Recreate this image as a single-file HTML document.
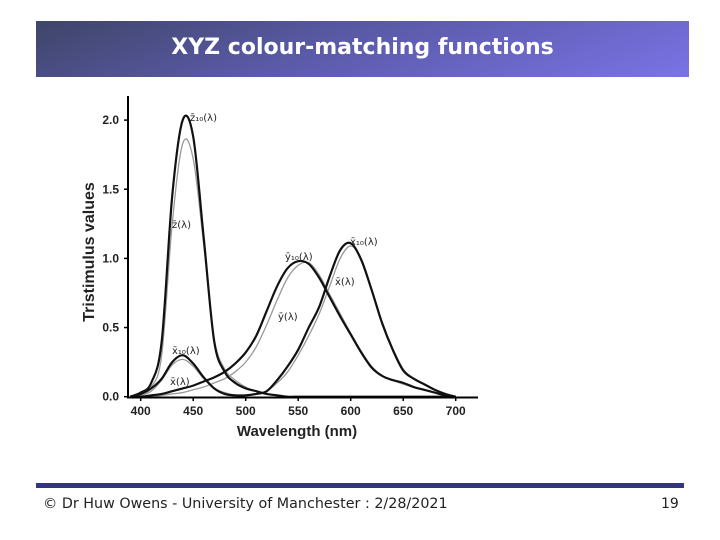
<!DOCTYPE html>
<html><head><meta charset="utf-8"><style>
body{margin:0;background:#fff;width:720px;height:540px;overflow:hidden;position:relative;font-family:"Liberation Sans",sans-serif}
#hdr{position:absolute;left:36px;top:21px;width:653px;height:56px;background:linear-gradient(160deg,#3e4567 0%,#5a5aa8 45%,#7a73e6 100%)}
#hdr span{position:absolute;left:0;right:0;top:14px;text-align:center;color:#fff;font-weight:bold;font-size:22px;font-family:"DejaVu Sans","Liberation Sans",sans-serif}
#rule{position:absolute;left:36px;top:483px;width:648px;height:5px;background:#333385}
#foot{position:absolute;left:43px;top:496px;font-size:14.3px;color:#222;font-family:"DejaVu Sans",sans-serif}
#pg{position:absolute;left:661px;top:496px;font-size:14px;color:#222;font-family:"DejaVu Sans",sans-serif}
svg{position:absolute;left:0;top:0}
</style></head><body>
<div id="hdr"><span>XYZ colour-matching functions</span></div>
<svg id="chart" width="720" height="540"></svg>
<div id="rule"></div>
<div id="foot">© Dr Huw Owens - University of Manchester : 2/28/2021</div>
<div id="pg">19</div>
<script>
const wavelengths=[390,400,410,420,430,440,450,460,470,480,490,500,510,520,530,540,550,560,570,580,590,600,610,620,630,640,650,660,670,680,690,700];
const z10=[0,.03,.10,.40,1.45,2.00,1.88,1.15,.40,.18,.10,.06,.04,.02,.01,0,0,0,0,0,0,0,0,0,0,0,0,0,0,0,0,0];
const z2=[0,.02,.07,.30,1.25,1.83,1.72,1.10,.42,.20,.12,.07,.04,.02,.01,0,0,0,0,0,0,0,0,0,0,0,0,0,0,0,0,0];
const x10=[0,.02,.06,.13,.25,.30,.24,.14,.06,.02,.01,.01,.02,.04,.12,.22,.34,.50,.65,.87,1.06,1.11,.99,.77,.53,.34,.19,.13,.09,.05,.02,0];
const x2=[0,.01,.04,.12,.23,.27,.22,.13,.06,.03,.01,.01,.02,.04,.10,.18,.30,.44,.60,.80,1.00,1.09,1.00,.78,.54,.35,.20,.13,.09,.05,.02,0];
const y10=[0,0,.01,.02,.04,.06,.08,.11,.14,.18,.24,.32,.44,.62,.80,.93,.98,.96,.86,.72,.58,.45,.32,.21,.15,.12,.10,.07,.05,.03,.01,0];
const y2=[0,0,0,.01,.02,.03,.05,.07,.10,.13,.18,.25,.36,.52,.70,.86,.95,.97,.88,.74,.60,.46,.33,.22,.15,.12,.09,.07,.05,.03,.01,0];
const xTicks=[400,450,500,550,600,650,700];
const yTicks=[0,0.5,1.0,1.5,2.0];
const NS='http://www.w3.org/2000/svg';
const svg=document.getElementById('chart');
const X=v=>140.7+(v-400)*1.05;
const Y=v=>396.7-v*138.3;
function mk(t,a,p){const e=document.createElementNS(NS,t);for(const k in a)e.setAttribute(k,a[k]);(p||svg).appendChild(e);return e;}
function path(vals){const pts=wavelengths.map((w,i)=>[X(w),Y(vals[i])]);let d='M'+pts[0][0]+','+pts[0][1];
for(let i=0;i<pts.length-1;i++){const p0=pts[Math.max(0,i-1)],p1=pts[i],p2=pts[i+1],p3=pts[Math.min(pts.length-1,i+2)];
d+=' C'+(p1[0]+(p2[0]-p0[0])/6)+','+(p1[1]+(p2[1]-p0[1])/6)+' '+(p2[0]-(p3[0]-p1[0])/6)+','+(p2[1]-(p3[1]-p1[1])/6)+' '+p2[0]+','+p2[1];}return d;}
const series=[[x2,'#999',1.3,'x-bar-2deg'],[y2,'#999',1.3,'y-bar-2deg'],[z2,'#999',1.3,'z-bar-2deg'],[x10,'#111',2.2,'x-bar-10deg'],[y10,'#111',2.2,'y-bar-10deg'],[z10,'#111',2.2,'z-bar-10deg']];
series.forEach(s=>{const e=mk('path',{d:path(s[0]),fill:'none',stroke:s[1],'stroke-width':s[2]});

});
const ax=mk('line',{x1:128,y1:96,x2:128,y2:397.5,stroke:'#000','stroke-width':2});

const bx=mk('line',{x1:127,y1:397.5,x2:478,y2:397.5,stroke:'#000','stroke-width':2});

xTicks.forEach(t=>{mk('line',{x1:X(t),y1:397,x2:X(t),y2:401,stroke:'#000','stroke-width':1.5});
const e=mk('text',{x:X(t),y:415,'text-anchor':'middle','font-size':12,'font-weight':'bold',fill:'#222'});e.textContent=t;
});
yTicks.forEach(t=>{mk('line',{x1:124,y1:Y(t),x2:128,y2:Y(t),stroke:'#000','stroke-width':1.5});
const e=mk('text',{x:119,y:Y(t)+4,'text-anchor':'end','font-size':12,'font-weight':'bold',fill:'#222'});e.textContent=t.toFixed(1);
});
const xt=mk('text',{x:297,y:436,'text-anchor':'middle','font-size':15,'font-weight':'bold',fill:'#222'});xt.textContent='Wavelength (nm)';

const yt=mk('text',{x:0,y:0,'text-anchor':'middle','font-size':16,'font-weight':'bold',fill:'#222',transform:'translate(94,252) rotate(-90)'});yt.textContent='Tristimulus values';

const labels=[['z̄₁₀(λ)',190,121],['z̄(λ)',172,228],['ȳ₁₀(λ)',285,260],['x̄₁₀(λ)',350,245],['x̄(λ)',335,285],['ȳ(λ)',278,320],['x̄₁₀(λ)',172,354],['x̄(λ)',170,385]];
labels.forEach(l=>{const e=mk('text',{x:l[1],y:l[2],'font-size':10,fill:'#222','font-family':'DejaVu Sans, sans-serif'});e.textContent=l[0];
});
</script>
</body></html>
